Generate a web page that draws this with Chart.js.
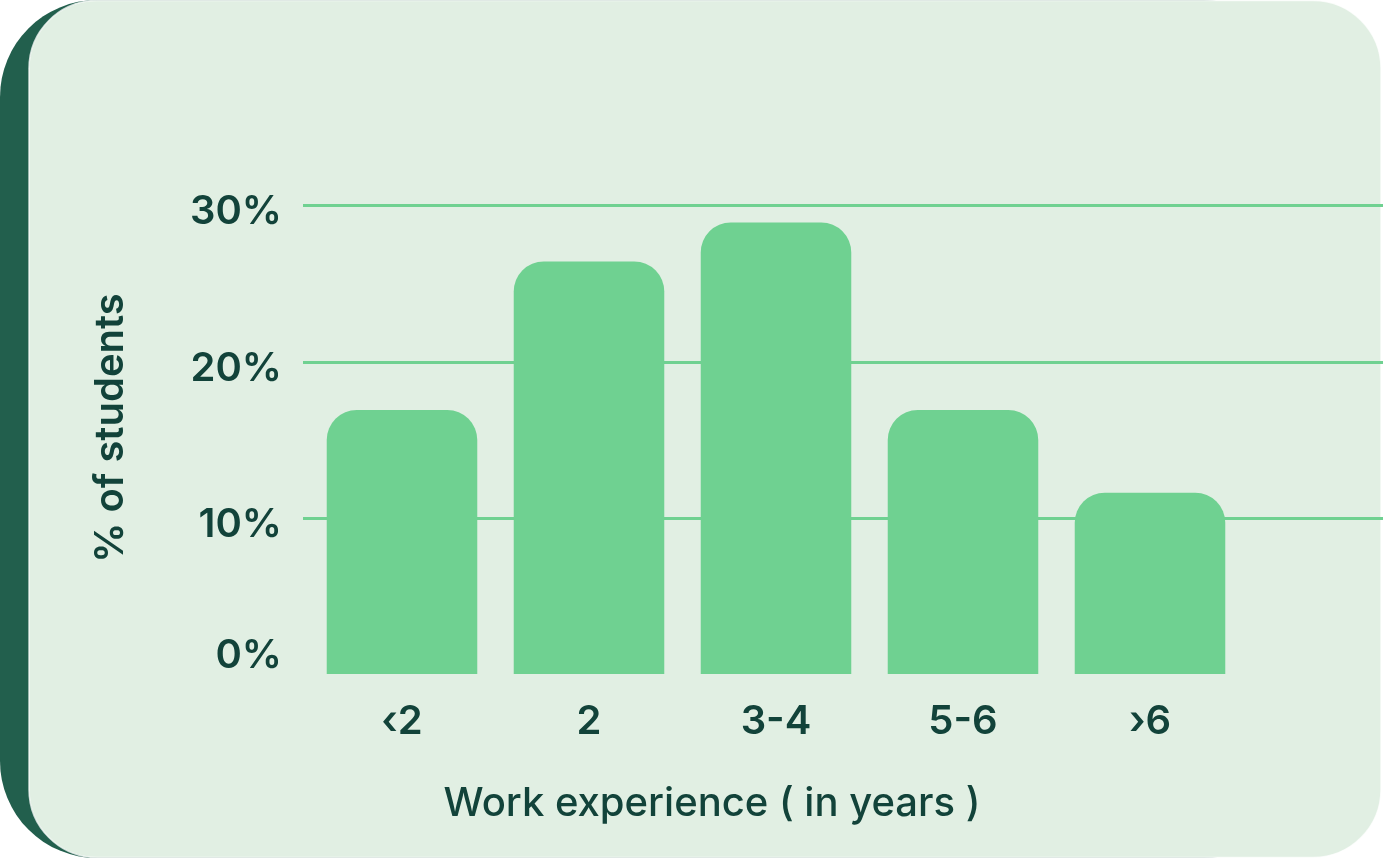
<!DOCTYPE html>
<html>
<head>
<meta charset="utf-8">
<script src="https://cdn.jsdelivr.net/npm/chart.js@4/dist/chart.umd.min.js"></script>
<style>
    html, body { margin: 0; padding: 0; background: #ffffff; }
    #wrap { width: 1383px; height: 858px; position: relative; }
</style>
</head>
<body>
<div id="wrap"><canvas id="grafico"></canvas></div>
<script>
"use strict"

// datos
const categorias = ['‹2', '2', '3-4', '5-6', '›6'];
const porcentajes = [16.9, 26.4, 28.9, 16.9, 11.6];
const ticksY = [0, 10, 20, 30];
const etiquetasY = ['0%', '10%', '20%', '30%'];
const tituloX = 'Work experience ( in years )';
const tituloY = '% of students';

const VERDE_BARRA = '#6fd191';
const TEXTO = '#12433a';
const OSCURO = '#225f4d';
const CLARO = '#e1efe3';
const FUENTE = 'Inter, "Noto Sans", sans-serif';

function redondeado(ctx, x, y, w, h, r) {
    ctx.beginPath();
    ctx.moveTo(x + r, y);
    ctx.lineTo(x + w - r, y);
    ctx.arcTo(x + w, y, x + w, y + r, r);
    ctx.lineTo(x + w, y + h - r);
    ctx.arcTo(x + w, y + h, x + w - r, y + h, r);
    ctx.lineTo(x + r, y + h);
    ctx.arcTo(x, y + h, x, y + h - r, r);
    ctx.lineTo(x, y + r);
    ctx.arcTo(x, y, x + r, y, r);
    ctx.closePath();
}

// fondo de la tarjeta
const tarjeta = {
    id: 'tarjeta',
    beforeDraw(chart) {
        const ctx = chart.ctx;
        ctx.save();
        ctx.fillStyle = OSCURO;
        redondeado(ctx, 0, 0, 1300, 858, 97);
        ctx.fill();
        ctx.fillStyle = CLARO;
        redondeado(ctx, 29, 0.5, 1352, 857, 68);
        ctx.fill();
        ctx.strokeStyle = 'rgba(255,255,255,0.75)';
        ctx.lineWidth = 1.5;
        ctx.stroke();
        ctx.restore();
    }
};

// lineas de la grilla (detras de las barras)
const grilla = {
    id: 'grilla',
    beforeDatasetsDraw(chart) {
        const ctx = chart.ctx;
        const y = chart.scales.y;
        ctx.save();
        ctx.strokeStyle = VERDE_BARRA;
        ctx.lineWidth = 3;
        ticksY.forEach(v => {
            if (v === 0) return;
            const py = Math.round(y.getPixelForValue(v)) + 0.5;
            ctx.beginPath();
            ctx.moveTo(303, py);
            ctx.lineTo(chart.width, py);
            ctx.stroke();
        });
        ctx.restore();
    }
};

// textos: ticks y titulos
const textos = {
    id: 'textos',
    afterDatasetsDraw(chart) {
        const ctx = chart.ctx;
        const x = chart.scales.x;
        const y = chart.scales.y;
        const area = chart.chartArea;
        ctx.save();
        ctx.fillStyle = TEXTO;

        ctx.font = `600 40px ${FUENTE}`;
        ctx.textAlign = 'right';
        ctx.textBaseline = 'alphabetic';
        ticksY.forEach((v, i) => {
            const py = y.getPixelForValue(v) + (v === 0 ? -6 : 19);
            ctx.fillText(etiquetasY[i], 282, py);
        });

        ctx.font = `600 40px ${FUENTE}`;
        ctx.textAlign = 'center';
        categorias.forEach((c, i) => {
            ctx.fillText(c, x.getPixelForValue(i), area.bottom + 60);
        });

        ctx.font = `500 40px ${FUENTE}`;
        ctx.fillText(tituloX, 712, area.bottom + 142);

        ctx.translate(123, 428);
        ctx.rotate(-Math.PI / 2);
        ctx.font = `600 40px ${FUENTE}`;
        ctx.fillText(tituloY, 0, 0);
        ctx.restore();
    }
};

const ctx = document.getElementById('grafico');

new Chart(ctx, {
    type: 'bar',
    data: {
        labels: categorias,
        datasets: [{
            data: porcentajes,
            backgroundColor: VERDE_BARRA,
            borderWidth: 0,
            borderSkipped: 'start',
            borderRadius: { topLeft: 30, topRight: 30, bottomLeft: 0, bottomRight: 0 },
            barPercentage: 0.805,
            categoryPercentage: 1
        }]
    },
    options: {
        responsive: true,
        maintainAspectRatio: false,
        animation: false,
        layout: { padding: { left: 308.5, right: 139.5, top: 205.3, bottom: 184 } },
        scales: {
            x: { display: false },
            y: { display: false, min: 0, max: 30 }
        },
        plugins: {
            legend: { display: false },
            tooltip: { enabled: false }
        }
    },
    plugins: [tarjeta, grilla, textos]
});
</script>
</body>
</html>
